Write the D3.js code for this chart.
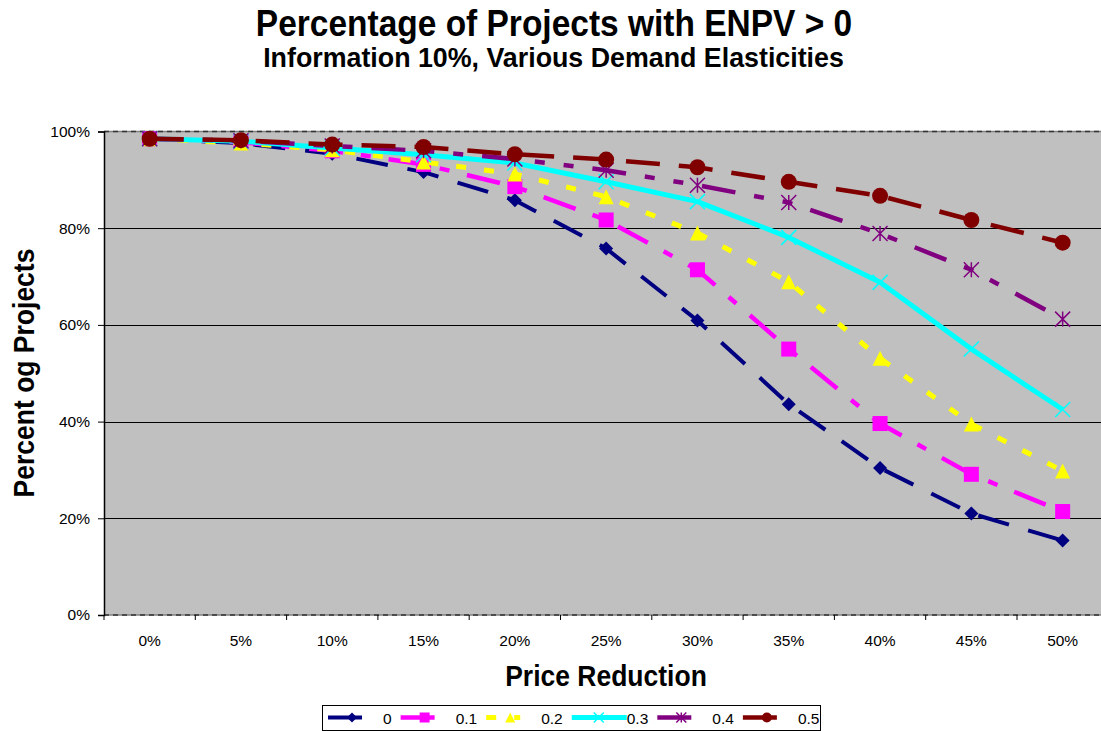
<!DOCTYPE html>
<html>
<head>
<meta charset="utf-8">
<script src="https://cdn.jsdelivr.net/npm/d3@7"></script>
<style>
  body { margin: 0; background: #fff; }
  svg { display: block; font-family: "Liberation Sans", Arial, Helvetica, sans-serif; }
</style>
</head>
<body>
<svg id="chart" width="1101" height="731"></svg>
<script>
// Price reduction categories (x axis)
const categories = ["0%", "5%", "10%", "15%", "20%", "25%", "30%", "35%", "40%", "45%", "50%"];

// Demand elasticity series: percent of projects with ENPV > 0
const elasticityLabels = ["0", "0.1", "0.2", "0.3", "0.4", "0.5"];
const elast00 = [98.5, 97.6, 95.4, 91.6, 85.8, 75.8, 60.9, 43.6, 30.4, 21.0, 15.4];
const elast01 = [98.5, 97.8, 96.0, 93.2, 88.6, 81.7, 71.4, 55.0, 39.6, 29.1, 21.4];
const elast02 = [98.5, 97.6, 96.2, 93.7, 91.2, 86.5, 79.0, 68.9, 53.1, 39.5, 29.8];
const elast03 = [98.5, 98.0, 96.6, 95.2, 93.5, 89.6, 85.5, 78.1, 68.8, 55.0, 42.5];
const elast04 = [98.5, 98.1, 97.0, 96.0, 94.3, 92.0, 88.9, 85.3, 78.9, 71.4, 61.2];
const elast05 = [98.5, 98.2, 97.3, 96.8, 95.3, 94.2, 92.6, 89.6, 86.7, 81.7, 77.0];

const yTicks = [0, 20, 40, 60, 80, 100];

// Line and marker styling per series
const styles = [
  { color: "#000080", width: 4,   dash: "32,20",             marker: "diamond" },
  { color: "#FF00FF", width: 4.5, dash: "34,18,10,18",       marker: "square" },
  { color: "#FFFF00", width: 5,   dash: "10,18",             marker: "triangle" },
  { color: "#00FFFF", width: 5,   dash: null,                marker: "x" },
  { color: "#800080", width: 4.5, dash: "34,19,10,19,10,19", marker: "star" },
  { color: "#800000", width: 4.5, dash: "34,19",             marker: "circle" }
];

const seriesValues = [elast00, elast01, elast02, elast03, elast04, elast05];
const series = elasticityLabels.map((name, i) => ({
  name,
  values: seriesValues[i].map((v, j) => ({ cat: categories[j], v })),
  style: styles[i]
}));

const svg = d3.select("#chart");

// Plot frame
const plot = { left: 104, top: 131.5, right: 1108.3, bottom: 615 };

const x = d3.scaleBand().domain(categories).range([plot.left, plot.right]).padding(0);
const y = d3.scaleLinear().domain([0, 100]).range([plot.bottom, plot.top]);
const cx = c => x(c) + x.bandwidth() / 2;

// Bold heading text, slightly stretched vertically
function heading(xp, yp, size, stretch, txt, rotate) {
  const t = rotate
    ? `translate(${xp},${yp}) rotate(-90) scale(1,${stretch})`
    : `translate(${xp},${yp}) scale(1,${stretch})`;
  svg.append("text")
    .attr("transform", t)
    .attr("text-anchor", "middle")
    .attr("font-weight", "bold").attr("font-size", size)
    .text(txt);
}

heading(554, 35.5, 33.5, 1.12, "Percentage of Projects with ENPV > 0");
heading(553.5, 67, 26.8, 1.06, "Information 10%, Various Demand Elasticities");

// Plot background
svg.append("rect")
  .attr("x", plot.left).attr("y", plot.top)
  .attr("width", plot.right - plot.left).attr("height", plot.bottom - plot.top)
  .attr("fill", "#C0C0C0");

// Horizontal gridlines
svg.append("g").selectAll("line")
  .data(yTicks.filter(t => t > 0 && t < 100))
  .join("line")
  .attr("x1", plot.left).attr("x2", plot.right)
  .attr("y1", d => Math.round(y(d)) + 0.5).attr("y2", d => Math.round(y(d)) + 0.5)
  .attr("stroke", "#000").attr("stroke-width", 1);

// Top and bottom frame edges (dashed grey)
[plot.top, plot.bottom].forEach(yy => {
  svg.append("line")
    .attr("x1", plot.left).attr("x2", plot.right)
    .attr("y1", yy).attr("y2", yy)
    .attr("stroke", "#808080").attr("stroke-width", 1.5);
  svg.append("line")
    .attr("x1", plot.left).attr("x2", plot.right)
    .attr("y1", yy).attr("y2", yy)
    .attr("stroke", "#333").attr("stroke-width", 1.5)
    .attr("stroke-dasharray", "5,4");
});

// Y axis
const yAxis = d3.axisLeft(y).tickValues(yTicks).tickFormat(d => d + "%").tickSize(6).tickPadding(8);
const gy = svg.append("g").attr("transform", `translate(${plot.left},0)`).call(yAxis);
gy.select(".domain").attr("stroke", "#000").attr("stroke-width", 1.5);
gy.selectAll(".tick line").attr("stroke", "#000");
gy.selectAll(".tick text")
  .attr("font-size", 15.5).attr("fill", "#000")
  .attr("font-family", "Liberation Sans, Arial, sans-serif");

// X axis: ticks at band boundaries, labels at band centres
const xAxisG = svg.append("g");
const boundaries = categories.map(c => x(c)).concat([plot.right]);
xAxisG.selectAll("line.tk").data(boundaries).join("line")
  .attr("class", "tk")
  .attr("x1", d => d).attr("x2", d => d)
  .attr("y1", plot.bottom).attr("y2", plot.bottom + 5)
  .attr("stroke", "#000").attr("stroke-width", 1);
xAxisG.selectAll("text").data(categories).join("text")
  .attr("x", d => cx(d)).attr("y", 646)
  .attr("text-anchor", "middle")
  .attr("font-size", 15.5)
  .text(d => d);

// Axis titles
heading(606, 685.5, 26.5, 1.12, "Price Reduction");
heading(34, 373, 26.5, 1.12, "Percent og Projects", true);

// Marker drawing
function drawMarker(g, type, color, s) {
  const h = s / 2;
  switch (type) {
    case "diamond":
      g.append("path").attr("d", `M0,${-h}L${h},0L0,${h}L${-h},0Z`).attr("fill", color);
      break;
    case "square":
      g.append("rect").attr("x", -h).attr("y", -h).attr("width", s).attr("height", s).attr("fill", color);
      break;
    case "triangle":
      g.append("path").attr("d", `M0,${-h}L${h},${h}L${-h},${h}Z`).attr("fill", color);
      break;
    case "x":
      g.append("path").attr("d", `M${-h},${-h}L${h},${h}M${-h},${h}L${h},${-h}`)
        .attr("stroke", color).attr("stroke-width", 1.5).attr("fill", "none");
      break;
    case "star":
      g.append("path").attr("d", `M${-h},${-h}L${h},${h}M${-h},${h}L${h},${-h}M0,${-h}L0,${h}`)
        .attr("stroke", color).attr("stroke-width", 1.5).attr("fill", "none");
      break;
    case "circle":
      g.append("circle").attr("r", h).attr("fill", color);
      break;
  }
}

const markerSize = { diamond: 14, square: 15, triangle: 15, x: 15, star: 15, circle: 16 };

const line = d3.line().x(d => cx(d.cat)).y(d => y(d.v));

const seriesG = svg.append("g");
series.forEach(s => {
  const g = seriesG.append("g");
  g.append("path")
    .datum(s.values)
    .attr("d", line)
    .attr("fill", "none")
    .attr("stroke", s.style.color)
    .attr("stroke-width", s.style.width)
    .attr("stroke-dasharray", s.style.dash)
    .attr("stroke-linejoin", "round");
  s.values.forEach(d => {
    const mg = g.append("g").attr("transform", `translate(${cx(d.cat)},${y(d.v)})`);
    drawMarker(mg, s.style.marker, s.style.color, markerSize[s.style.marker]);
  });
});

// Legend
const legend = svg.append("g");
legend.append("rect")
  .attr("x", 322.5).attr("y", 705.5).attr("width", 498).attr("height", 25)
  .attr("fill", "#fff").attr("stroke", "#000").attr("stroke-width", 1);
let lx = 328;
const ly = 717.5;
series.forEach(s => {
  const g = legend.append("g");
  const keyLen = s.style.marker === "x" ? 55 : 34;
  g.append("line")
    .attr("x1", lx).attr("x2", lx + keyLen)
    .attr("y1", ly).attr("y2", ly)
    .attr("stroke", s.style.color).attr("stroke-width", s.style.width)
    .attr("stroke-dasharray", s.style.marker === "triangle" ? "10,18" : null);
  const mg = g.append("g").attr("transform", `translate(${s.style.marker === "x" ? lx + 27 : lx + 24},${ly})`);
  drawMarker(mg, s.style.marker, s.style.color, 10);
  const t = g.append("text")
    .attr("x", lx + 55).attr("y", 724)
    .attr("font-size", 15.5)
    .text(s.name);
  lx = lx + 55 + t.node().getComputedTextLength() + 9;
});
</script>
</body>
</html>
